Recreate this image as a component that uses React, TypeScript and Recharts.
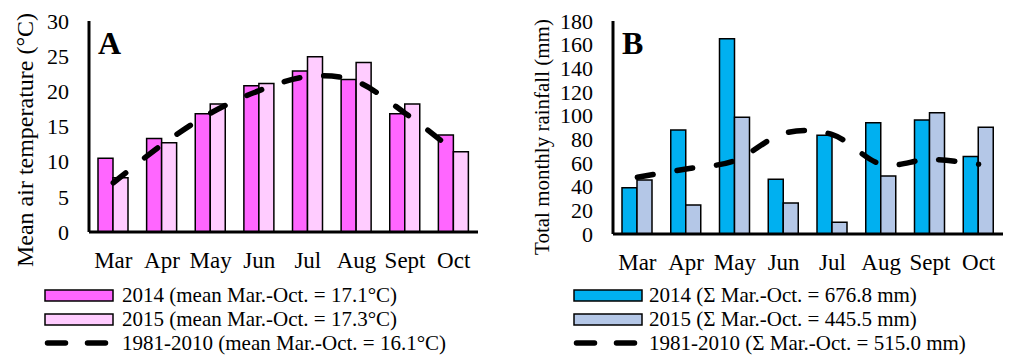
import React from 'react';
import { ComposedChart, Bar, Line, XAxis, YAxis } from 'recharts';

const FONT = '"Liberation Serif", "Times New Roman", serif';

const months = ['Mar', 'Apr', 'May', 'Jun', 'Jul', 'Aug', 'Sept', 'Oct'];

// A: mean air temperature (°C)
const temp2014 = [10.5, 13.3, 16.8, 20.8, 22.9, 21.7, 16.8, 13.8];
const temp2015 = [7.7, 12.7, 18.2, 21.1, 24.9, 24.1, 18.2, 11.4];
const tempNormal = [7.0, 12.4, 16.9, 20.1, 22.1, 21.4, 16.9, 11.6];
const tempTicks = [0, 5, 10, 15, 20, 25, 30];

// B: total monthly rainfall (mm)
const rain2014 = [39.1, 87.9, 165.1, 46.2, 83.4, 94.1, 96.4, 65.4];
const rain2015 = [45.6, 24.5, 98.6, 26.2, 9.9, 49.0, 102.5, 90.2];
const rainNormal = [48, 55, 62, 85, 84, 59, 63, 59];
const rainTicks = [0, 20, 40, 60, 80, 100, 120, 140, 160, 180];

const legendA = [
    { label: '2014 (mean Mar.-Oct. = 17.1°C)', fill: '#FF66FF' },
    { label: '2015 (mean Mar.-Oct. = 17.3°C)', fill: '#FFCCFF' },
    { label: '1981-2010 (mean Mar.-Oct. = 16.1°C)', fill: null },
];
const legendB = [
    { label: '2014 (Σ Mar.-Oct. = 676.8 mm)', fill: '#00B0F0' },
    { label: '2015 (Σ Mar.-Oct. = 445.5 mm)', fill: '#B4C7E7' },
    { label: '1981-2010 (Σ Mar.-Oct. = 515.0 mm)', fill: null },
];

const tempData = months.map((m, i) => ({ month: m, y2014: temp2014[i], y2015: temp2015[i], normal: tempNormal[i] }));
const rainData = months.map((m, i) => ({ month: m, y2014: rain2014[i], y2015: rain2015[i], normal: rainNormal[i] }));

// Excel-like smoothed line (Catmull-Rom as cubic beziers)
const smoothCurve = (context: any) => {
    let pts: number[][] = [];
    return {
        areaStart() {},
        areaEnd() {},
        lineStart() { pts = []; },
        point(x: number, y: number) { pts.push([+x, +y]); },
        lineEnd() {
            if (!pts.length) return;
            context.moveTo(pts[0][0], pts[0][1]);
            for (let i = 0; i < pts.length - 1; i++) {
                const p0 = pts[Math.max(i - 1, 0)];
                const p1 = pts[i];
                const p2 = pts[i + 1];
                const p3 = pts[Math.min(i + 2, pts.length - 1)];
                context.bezierCurveTo(
                    p1[0] + (p2[0] - p0[0]) / 6, p1[1] + (p2[1] - p0[1]) / 6,
                    p2[0] - (p3[0] - p1[0]) / 6, p2[1] - (p3[1] - p1[1]) / 6,
                    p2[0], p2[1]
                );
            }
        },
    };
};

const tick = { fill: '#000', fontSize: 23, fontFamily: FONT };
const yTick = { fill: '#000', fontSize: 22, fontFamily: FONT };
const axisLine = { stroke: '#000', strokeWidth: 3 };

const LegendBlock = ({ items, x, textX }: { items: typeof legendA; x: number; textX: number }) => (
    <g>
        {items.map((it, i) => {
            const base = 302 + i * 24;
            return (
                <g key={it.label}>
                    {it.fill ? (
                        <rect x={x} y={base - 12} width={68} height={11} fill={it.fill} stroke="#000" strokeWidth={1.5} />
                    ) : (
                        <line x1={x + 2.5} x2={x + 64} y1={base - 7} y2={base - 7} stroke="#000" strokeWidth={5.5}
                            strokeDasharray="18 22" strokeLinecap="round" />
                    )}
                    <text x={textX} y={base} fontSize={21} fontFamily={FONT} fill="#000">{it.label}</text>
                </g>
            );
        })}
    </g>
);

const App: React.FC = () => {
    return (
        <div style={{ position: 'absolute', left: 0, top: 0, width: 1011, height: 356, background: '#fff' }}>
            <div style={{ position: 'absolute', left: 0, top: 0 }}>
                <ComposedChart width={500} height={280} data={tempData} margin={{ top: 21, right: 22, left: 0, bottom: 8 }}
                    barGap={0} barSize={15}>
                    <XAxis dataKey="month" interval={0} tickSize={0} tickMargin={20} tick={tick} axisLine={axisLine} height={40} />
                    <YAxis domain={[0, 30]} ticks={tempTicks} interval={0} width={89} tickSize={0} tickMargin={20} tick={yTick} axisLine={axisLine} />
                    <Bar dataKey="y2014" fill="#FF66FF" stroke="#000" strokeWidth={1.5} isAnimationActive={false} />
                    <Bar dataKey="y2015" fill="#FFCCFF" stroke="#000" strokeWidth={1.5} isAnimationActive={false} />
                    <Line dataKey="normal" type={smoothCurve as any} stroke="#000" strokeWidth={5.5} strokeDasharray="16 24"
                        strokeLinecap="round" dot={false} activeDot={false} isAnimationActive={false} />
                </ComposedChart>
            </div>
            <div style={{ position: 'absolute', left: 500, top: 0 }}>
                <ComposedChart width={511} height={280} data={rainData} margin={{ top: 21, right: 8, left: 0, bottom: 6 }}
                    barGap={0} barSize={15}>
                    <XAxis dataKey="month" interval={0} tickSize={0} tickMargin={20} tick={tick} axisLine={axisLine} height={40} />
                    <YAxis domain={[0, 180]} ticks={rainTicks} interval={0} width={113} tickSize={0} tickMargin={20} tick={yTick} axisLine={axisLine} />
                    <Bar dataKey="y2014" fill="#00B0F0" stroke="#000" strokeWidth={1.5} isAnimationActive={false} />
                    <Bar dataKey="y2015" fill="#B4C7E7" stroke="#000" strokeWidth={1.5} isAnimationActive={false} />
                    <Line dataKey="normal" type={smoothCurve as any} stroke="#000" strokeWidth={5.5} strokeDasharray="16 24"
                        strokeLinecap="round" dot={false} activeDot={false} isAnimationActive={false} />
                </ComposedChart>
            </div>
            <svg width={1011} height={356} style={{ position: 'absolute', left: 0, top: 0, pointerEvents: 'none' }}>
                <text transform="translate(25,140) rotate(-90)" textAnchor="middle" dominantBaseline="central"
                    fontSize={24} fontFamily={FONT} fill="#000">Mean air temperature (°C)</text>
                <text transform="translate(542,137) rotate(-90)" textAnchor="middle" dominantBaseline="central"
                    fontSize={21} fontFamily={FONT} fill="#000">Total monthly rainfall (mm)</text>
                <text x={98} y={54} fontSize={32} fontWeight="bold" fontFamily={FONT} fill="#000">A</text>
                <text x={622} y={54} fontSize={32} fontWeight="bold" fontFamily={FONT} fill="#000">B</text>
                <LegendBlock items={legendA} x={45} textX={122} />
                <LegendBlock items={legendB} x={574} textX={649} />
            </svg>
        </div>
    );
};

export default App;
